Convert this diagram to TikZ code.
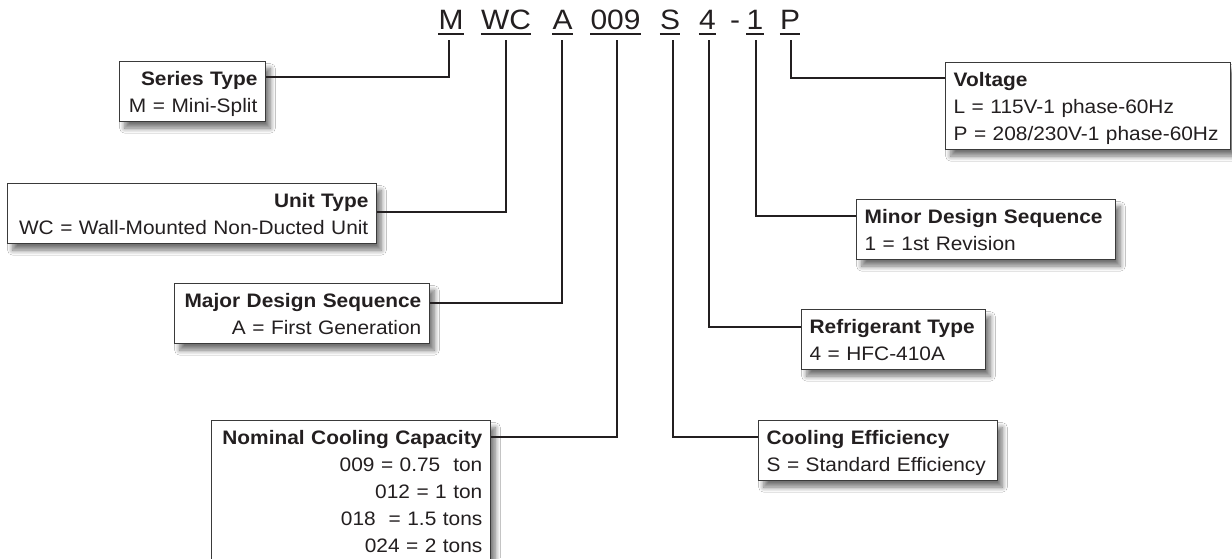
\documentclass[tikz,border=0pt]{standalone}
\usepackage{fontspec}
\newfontfamily\lab[FakeStretch=1.07]{Liberation Sans}
\usetikzlibrary{shadows.blur}
\definecolor{ink}{HTML}{231F20}
\definecolor{frame}{HTML}{3A3A3A}
\tikzset{
  box/.style={draw=frame, line width=1.3pt, fill=white, rectangle, anchor=north west,
    inner xsep=8pt, inner ysep=9pt, text=ink,
    font=\lab\fontsize{19.5}{27}\selectfont, text height=14.5pt,
    blur shadow={shadow xshift=5pt, shadow yshift=-7pt, shadow blur radius=5pt,
      shadow blur steps=8, shadow opacity=55}},
  lbox/.style={box, align=left},
  rbox/.style={box, align=right},
  code/.style={font=\lab\fontsize{28}{30}\selectfont, text=ink, inner sep=0pt, anchor=base},
  conn/.style={draw=ink, line width=2pt},
  uline/.style={draw=ink, line width=1.6pt},
}
\begin{document}
\begin{tikzpicture}[x=1pt, y=-1pt]
\fill[white] (0,0) rectangle (1232,558);
\useasboundingbox (0,0) rectangle (1232,558);

% code letters
\node[code] (cM)  at (451,29) {M};
\node[code] (cWC) at (506,29) {WC};
\node[code] (cA)  at (562.5,29) {A};
\node[code] (c009) at (615.5,29) {009};
\node[code] (cS)  at (670,29) {S};
\node[code] (c4)  at (707.5,29) {4};
\node[code] (cdash) at (735,29) {-};
\node[code] (c1)  at (755,29) {1};
\node[code] (cP)  at (790,29) {P};
\foreach \n in {cM,cWC,cA,c009,cS,c4,c1,cP}
  \draw[uline] ([yshift=-4.5pt]\n.south west) -- ([yshift=-4.5pt]\n.south east);

% boxes
\node[rbox, text width=129.7pt, text depth=27pt] (series) at (119,61)
  {\textbf{Series Type}\\M = Mini-Split};
\node[rbox, text width=352.7pt, text depth=27pt] (unit) at (7,183)
  {\textbf{Unit Type}\\WC = Wall-Mounted Non-Ducted Unit};
\node[rbox, text width=238.7pt, text depth=27pt] (major) at (174,283)
  {\textbf{Major Design Sequence}\\A = First Generation};
\node[rbox, text width=262.7pt, text depth=107pt] (nominal) at (211,420)
  {\textbf{Nominal Cooling Capacity}\\009 = 0.75\ \ ton\\012 = 1 ton\\018\ \ = 1.5 tons\\024 = 2 tons};
\node[lbox, text width=268.7pt, text depth=54pt] (voltage) at (945,62)
  {\textbf{Voltage}\\L = 115V-1 phase-60Hz\\P = 208/230V-1 phase-60Hz};
\node[lbox, text width=242.7pt, text depth=27pt] (minor) at (856,199)
  {\textbf{Minor Design Sequence}\\1 = 1st Revision};
\node[lbox, text width=167.7pt, text depth=27pt] (refr) at (801,309)
  {\textbf{Refrigerant Type}\\4 = HFC-410A};
\node[lbox, text width=222.7pt, text depth=27pt] (cool) at (758,420)
  {\textbf{Cooling Efficiency}\\S = Standard Efficiency};

% connector coordinates
\coordinate (tM) at (449,40);   \coordinate (bM) at (449,77);
\coordinate (tWC) at (506,40);  \coordinate (bWC) at (506,212);
\coordinate (tA) at (562,40);   \coordinate (bA) at (562,303);
\coordinate (t009) at (617,40); \coordinate (b009) at (617,437);
\coordinate (tS) at (673,40);   \coordinate (bS) at (673,437);
\coordinate (t4) at (709,40);   \coordinate (b4) at (709,327);
\coordinate (t1) at (756,40);   \coordinate (b1) at (756,216);
\coordinate (tP) at (791,40);   \coordinate (bP) at (791,78);

\draw[conn] (tM) -- (bM) -- (bM -| series.east);
\draw[conn] (tWC) -- (bWC) -- (bWC -| unit.east);
\draw[conn] (tA) -- (bA) -- (bA -| major.east);
\draw[conn] (t009) -- (b009) -- (b009 -| nominal.east);
\draw[conn] (tS) -- (bS) -- (bS -| cool.west);
\draw[conn] (t4) -- (b4) -- (b4 -| refr.west);
\draw[conn] (t1) -- (b1) -- (b1 -| minor.west);
\draw[conn] (tP) -- (bP) -- (bP -| voltage.west);
\end{tikzpicture}
\end{document}
